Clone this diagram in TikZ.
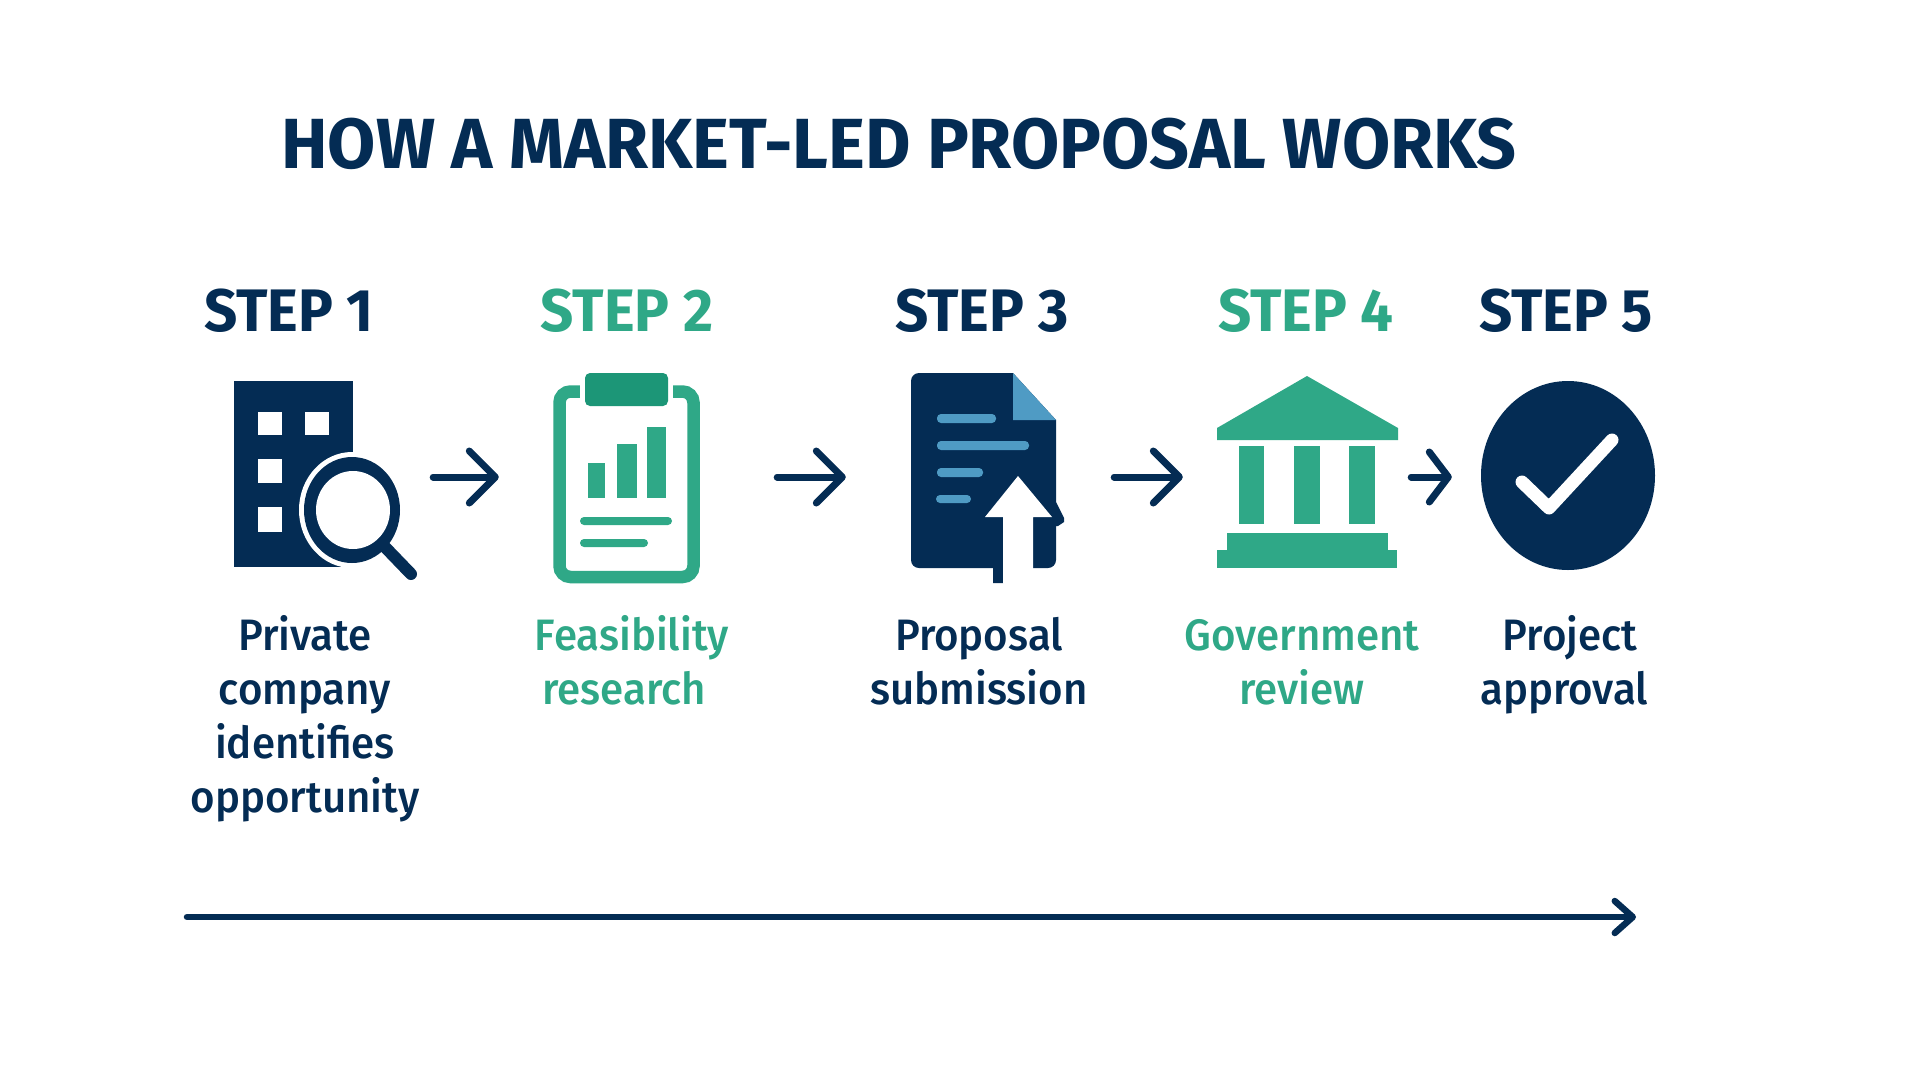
\documentclass[tikz,border=0pt]{standalone}
\usepackage{fontspec}
\usetikzlibrary{arrows.meta}
\newfontfamily\titlefont[FakeStretch=0.984]{Fira Sans Bold}
\newfontfamily\headfont[FakeStretch=0.97]{Fira Sans Bold}
\newfontfamily\bodyfont[FakeStretch=0.955]{Fira Sans Medium}
\definecolor{navy}{HTML}{042C54}
\definecolor{teal}{HTML}{2FA887}
\definecolor{tealdark}{HTML}{1C9677}
\definecolor{docblue}{HTML}{4F9BC4}
\tikzset{
  titletext/.style={anchor=base west,inner sep=0pt,text=navy,font=\fontsize{71}{71}\selectfont\titlefont},
  steplabel/.style={anchor=base,inner sep=0pt,font=\fontsize{60}{60}\selectfont\headfont},
  caption/.style={anchor=base,inner sep=0pt,align=center,font=\fontsize{44}{54}\selectfont\bodyfont},
  iconbox/.style={inner sep=0pt,minimum height=200pt},
  flow/.style={draw=navy,line width=7pt,line cap=round,-{Straight Barb[length=26pt,width=52pt,round]},shorten <=3pt},
  navyfill/.style={fill=navy,draw=none},
  tealfill/.style={fill=teal,draw=none},
  bluebar/.style={fill=docblue,draw=none,rounded corners=4pt},
  wfill/.style={fill=white,draw=none},
}
\begin{document}
\begin{tikzpicture}[x=1pt,y=-1pt]
\useasboundingbox (0,0) rectangle (1920,1080);
\fill[white] (0,0) rectangle (1920,1080);

\node[titletext] (title) at (281,168) {HOW A MARKET-LED PROPOSAL WORKS};

\node[steplabel,text=navy] (s1) at (289,331) {STEP 1};
\node[steplabel,text=teal] (s2) at (627,331) {STEP 2};
\node[steplabel,text=navy] (s3) at (982,331) {STEP 3};
\node[steplabel,text=teal] (s4) at (1306,331) {STEP 4};
\node[steplabel,text=navy] (s5) at (1566,331) {STEP 5};

% building with magnifier
\fill[navyfill] (234,381) rectangle (353,567);
\foreach \a/\b/\c/\d in {258/412/282/435,305/412/329/435,258/459/282/483,258/507/282/532}
  \fill[wfill] (\a,\b) rectangle (\c,\d);
\fill[wfill] (352,510) ellipse [x radius=53,y radius=58];
\fill[wfill] (353,567) rectangle (345,560);
\fill[navyfill] (352,510) ellipse [x radius=48,y radius=53];
\fill[wfill] (353,510) ellipse [x radius=37,y radius=39];
\draw[navy,line width=12pt,line cap=round] (384,546) -- (411,574);

% clipboard
\draw[teal,line width=12.5pt,rounded corners=11pt] (559.5,391.5) rectangle (693.5,577);
\fill[wfill] (580,378) rectangle (673,400);
\fill[fill=tealdark,rounded corners=5pt] (585,373) rectangle (668,406);
\fill[tealfill] (588,463) rectangle (605,498);
\fill[tealfill] (617,444) rectangle (637,498);
\fill[tealfill] (647,427) rectangle (666,498);
\fill[tealfill,rounded corners=4pt] (580,517) rectangle (672,525);
\fill[tealfill,rounded corners=4pt] (580,539) rectangle (648,547);

% document
\fill[navyfill] (1013,373) -- (1056,420) -- (1056,502) -- (1064,518) -- (1064,522) -- (1058,526) -- (1056,526)
  -- (1056,560) arc[start angle=0,end angle=90,radius=8] -- (1003,568) -- (1003,583) -- (993,583) -- (993,568)
  -- (919,568) arc[start angle=90,end angle=180,radius=8] -- (911,381) arc[start angle=180,end angle=270,radius=8] -- cycle;
\fill[fill=docblue] (1013,373) -- (1056,420) -- (1013,420) -- cycle;
\fill[bluebar] (937,414) rectangle (996,423);
\fill[bluebar] (937,441) rectangle (1029,450);
\fill[bluebar] (937,468) rectangle (983,477);
\fill[bluebar] (936,495) rectangle (971,503);
\fill[wfill] (1018,476) -- (1052,517) -- (1033,517) -- (1033,583) -- (1003,583) -- (1003,517) -- (985,517) -- cycle;

% temple
\fill[tealfill] (1307,376) -- (1398,428) -- (1398,440) -- (1217,440) -- (1217,428) -- cycle;
\fill[tealfill] (1239,446) rectangle (1264,524);
\fill[tealfill] (1294,446) rectangle (1320,524);
\fill[tealfill] (1349,446) rectangle (1375,524);
\fill[tealfill] (1227,533) rectangle (1388,551);
\fill[tealfill] (1217,550) rectangle (1397,568);

% check badge
\fill[navyfill] (1568,475.5) ellipse [x radius=87,y radius=94.5];
\draw[white,line width=13pt,line cap=round,line join=round] (1522,482) -- (1549,508) -- (1612,440);

% invisible icon frames the connectors attach to
\node[iconbox,minimum width=196pt] (i1) at (332,477) {};
\node[iconbox,minimum width=275pt] (i2) at (636.5,477) {};
\node[iconbox,minimum width=265pt] (i3) at (978.5,477) {};
\node[iconbox,minimum width=225pt] (i4) at (1295.5,477) {};
\node[iconbox,minimum width=203pt] (i5) at (1553.5,477) {};
\draw[flow] (i1.east) -- (i2.west);
\draw[flow] (i2.east) -- (i3.west);
\draw[flow] (i3.east) -- (i4.west);
\draw[flow,-{Straight Barb[length=19pt,width=50pt,round]}] (i4.east) -- (i5.west);

\node[caption,text=navy] (c1) at (305,812) {Private\\company\\identifies\\opportunity};
\node[caption,text=teal] (c2) at (632,704) {Feasibility\\research\hspace*{16pt}};
\node[caption,text=navy] (c3) at (979,704) {Proposal\\submission};
\node[caption,text=teal] (c4) at (1302,704) {Government\\review};
\node[caption,text=navy] (c5) at (1570,704) {Project\\approval\hspace*{12pt}};

\coordinate (tl0) at (187,917);
\coordinate (tl1) at (1636,917);
\draw[navy,line width=6.5pt,line cap=round,-{Straight Barb[length=18pt,width=32pt,round]}] (tl0) -- (tl1);
\end{tikzpicture}
\end{document}
